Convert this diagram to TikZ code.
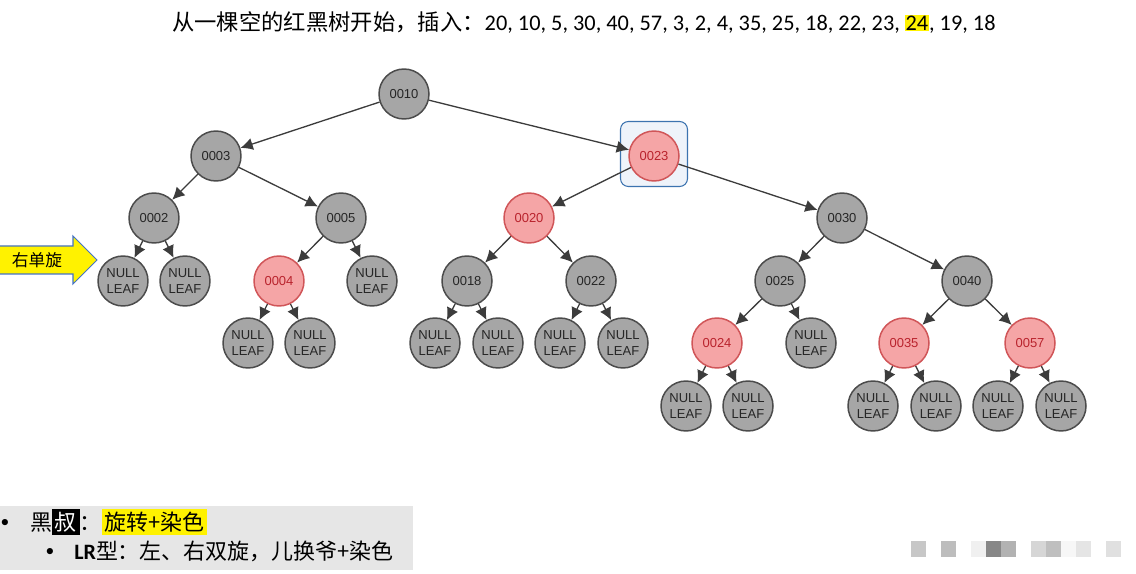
\documentclass[tikz,border=0pt]{standalone}
\usepackage{fontspec}
\setmainfont{Carlito}
\newfontfamily\cjk{Noto Sans CJK SC}
\newfontfamily\nodefont{Liberation Sans}
\usetikzlibrary{arrows.meta}
\definecolor{blkfill}{RGB}{166,166,166}
\definecolor{blkline}{RGB}{75,75,75}
\definecolor{redfill}{RGB}{245,165,166}
\definecolor{redline}{RGB}{208,85,88}
\definecolor{redtext}{RGB}{185,35,45}
\definecolor{edgecol}{RGB}{60,60,60}
\definecolor{hlfill}{RGB}{238,243,250}
\definecolor{hlline}{RGB}{60,115,175}
\definecolor{arrowline}{RGB}{68,114,196}
\definecolor{boxgray}{RGB}{230,230,230}

\begin{document}
\begin{tikzpicture}[x=0.02cm, y=-0.02cm,
  every node/.style = {font=\nodefont\fontsize{7.4}{8.6}\selectfont},
  blknode/.style = {circle, draw=blkline, fill=blkfill, line width=0.85pt,
    minimum size=1cm, inner sep=0pt, align=center, text=black!85},
  rednode/.style = {blknode, draw=redline, fill=redfill, text=redtext},
  hlbox/.style = {draw=hlline, fill=hlfill, rounded corners=4.5pt, line width=0.6pt,
    minimum width=67*0.02cm, minimum height=65*0.02cm},
  edge/.style = {-{Latex[length=7pt,width=7pt]}, draw=edgecol, line width=0.75pt}]
  \useasboundingbox (0,0) rectangle (1136,574);

  % title
  \node[anchor=west, inner sep=0pt, font=\fontsize{12.7}{15}\selectfont] (title) at (172,22)
    {{\cjk 从一棵空的红黑树开始，插入：}20, 10, 5, 30, 40, 57, 3, 2, 4, 35, 25, 18, 22, 23, {\fboxsep=0.5pt\colorbox{yellow}{24}}, 19, 18};

  % tree
  \node[blknode] (n10) at (404,94) {0010};
  \node[blknode] (n3) at (216,156) {0003};
  \node[hlbox] (hl) at (654,154) {};
  \node[rednode] (n23) at (654,156) {0023};
  \node[blknode] (n2) at (154,218) {0002};
  \node[blknode] (n5) at (341,218) {0005};
  \node[rednode] (n20) at (529,218) {0020};
  \node[blknode] (n30) at (842,218) {0030};
  \node[rednode] (n4) at (279,281) {0004};
  \node[blknode] (n18) at (467,281) {0018};
  \node[blknode] (n22) at (591,281) {0022};
  \node[blknode] (n25) at (780,281) {0025};
  \node[blknode] (n40) at (967,281) {0040};
  \node[rednode] (n24) at (717,343) {0024};
  \node[rednode] (n35) at (904,343) {0035};
  \node[rednode] (n57) at (1030,343) {0057};
  % NULL leaves
  \foreach \nm/\x/\y in {l2a/123/281, l2b/185/281, l5b/372/281, l4a/248/343, l4b/310/343,
      l18a/435/343, l18b/498/343, l22a/560/343, l22b/623/343, l25b/811/343,
      l24a/686/406, l24b/748/406, l35a/873/406, l35b/936/406, l57a/998/406, l57b/1061/406}
    \node[blknode] (\nm) at (\x,\y) {NULL\\LEAF};

  \foreach \a/\b in {n10/n3, n10/n23, n3/n2, n3/n5, n23/n20, n23/n30,
      n2/l2a, n2/l2b, n5/n4, n5/l5b, n20/n18, n20/n22, n30/n25, n30/n40,
      n4/l4a, n4/l4b, n18/l18a, n18/l18b, n22/l22a, n22/l22b,
      n25/n24, n25/l25b, n40/n35, n40/n57,
      n24/l24a, n24/l24b, n35/l35a, n35/l35b, n57/l57a, n57/l57b}
    \draw[edge] (\a) -- (\b);

  % yellow arrow
  \draw[fill=yellow, draw=arrowline, line width=0.6pt]
    (-2,246) -- (73,246) -- (73,236) -- (97,260) -- (73,284) -- (73,274) -- (-2,274) -- cycle;
  \node[font=\cjk\fontsize{9.5}{11}\selectfont] (rot) at (37,260) {右单旋};

  % notes at the bottom
  \fill[boxgray] (0,506) rectangle (413,570);
  \node[font=\fontsize{10}{12}\selectfont] (dot1) at (5,523) {\textbullet};
  \node[anchor=west, inner sep=0pt, font=\cjk\fontsize{12.5}{15}\selectfont] (note1) at (30,522)
    {黑{\fboxsep=1.5pt\colorbox{black}{\textcolor{white}{叔}}}：{\fboxsep=1.5pt\colorbox{yellow}{旋转+染色}}};
  \node[font=\fontsize{10}{12}\selectfont] (dot2) at (50,552) {\textbullet};
  \node[anchor=west, inner sep=0pt, font=\fontsize{12.5}{15}\selectfont] (note2) at (74,551)
    {\textbf{LR}{\cjk 型：左、右双旋，儿换爷+染色}};

  % blurred marks
  \foreach \x/\p in {911/22, 941/26, 971/6, 986/47, 1001/30, 1031/16, 1046/25, 1061/3, 1076/10, 1106/12}
    \fill[black!\p] (\x,541) rectangle ++(15,16);
\end{tikzpicture}
\end{document}
